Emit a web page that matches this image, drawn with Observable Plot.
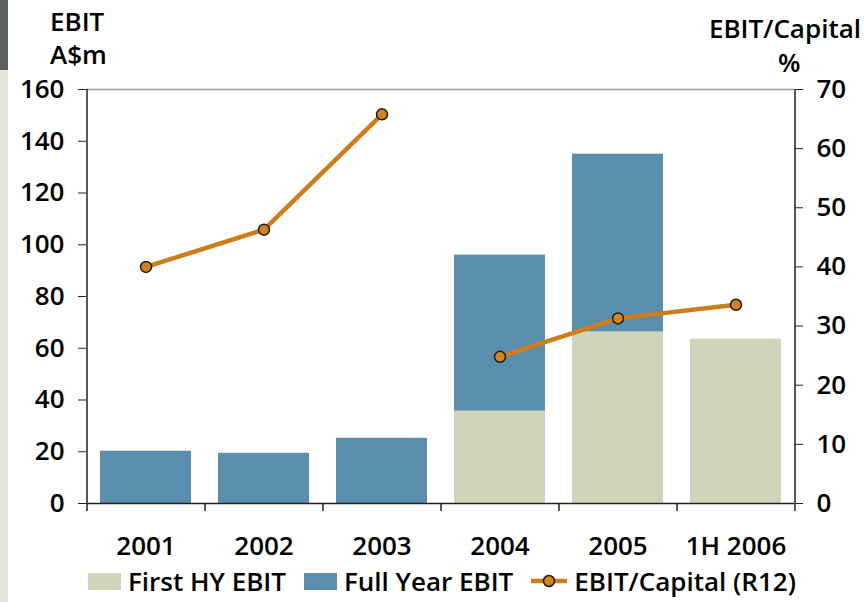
<!DOCTYPE html>
<html>
<head>
<meta charset="utf-8">
<script src="https://cdn.jsdelivr.net/npm/d3@7"></script>
<script src="https://cdn.jsdelivr.net/npm/@observablehq/plot@0.6"></script>
<style>
  html, body { margin: 0; padding: 0; background: #fff; }
  #wrap { position: relative; width: 865px; height: 602px; overflow: hidden;
          font-family: "Open Sans", sans-serif; font-weight: 600; font-size: 26px; color: #000; }
  .strip-dark { position: absolute; left: 0; top: 0; width: 8px; height: 70px; background: #5c6164; }
  .strip-light { position: absolute; left: 0; top: 70px; width: 8px; height: 532px; background: #e5e6da; }
  .lbl { position: absolute; line-height: 1; white-space: nowrap; }
  #chart { position: absolute; left: 0; top: 0; }
  #legend { position: absolute; left: 88px; top: 568px; display: flex; align-items: center; gap: 18px; line-height: 1; white-space: nowrap; }
  .item { display: flex; align-items: center; gap: 7px; }
  .sw { width: 33px; height: 17px; }
</style>
</head>
<body>
<div id="wrap">
  <div class="strip-dark"></div>
  <div class="strip-light"></div>
  <div class="lbl" style="left:50px; top:8px;">EBIT</div>
  <div class="lbl" style="left:50px; top:41px;">A$m</div>
  <div class="lbl" style="right:4px; top:15px;">EBIT/Capital</div>
  <div class="lbl" style="left:778px; top:49px;">%</div>
  <div id="chart"></div>
  <div id="legend"></div>
</div>
<script>
// ---- data ----
const categories = ["2001", "2002", "2003", "2004", "2005", "1H 2006"];
const firstHYEbit = [null, null, null, 35.7, 66.3, 63.5];      // A$m
const fullYearEbit = [20.2, 19.4, 25.2, 96.0, 135.0, null];    // A$m
const ebitCapital = [40.0, 46.3, 65.8, 24.8, 31.3, 33.6];      // %
const ratioSegment = ["A", "A", "A", "B", "B", "B"];           // line break between 2003 and 2004
const leftTicks = [0, 20, 40, 60, 80, 100, 120, 140, 160];
const rightTicks = [0, 10, 20, 30, 40, 50, 60, 70];
const seriesNames = ["First HY EBIT", "Full Year EBIT", "EBIT/Capital (R12)"];

// ---- layout / style ----
const W = 865, H = 565, ML = 86, MR = 71, MT = 89, MB = 62;
const LEFT_MAX = 160, RIGHT_MAX = 70;
const toLeft = v => v * LEFT_MAX / RIGHT_MAX;
const step = (W - ML - MR) / categories.length;
const tickLen = 8 * LEFT_MAX / (H - MT - MB);   // 8px in data units
const BEIGE = "#cfd5b8", BLUE = "#5b8dad", ORANGE = "#cd7d1a", MARKER = "#d4821f";
const AXIS = "#222", TOPLINE = "#9a9a9a";
const FS = 26;

// ---- tables built from arrays ----
const hyBars = categories.map((c, i) => ({cat: c, y1: 0, y2: firstHYEbit[i]})).filter(d => d.y2 != null);
const fyBars = categories.map((c, i) => ({cat: c, y1: firstHYEbit[i] ?? 0, y2: fullYearEbit[i]})).filter(d => d.y2 != null);
const ratio = categories.map((c, i) => ({cat: c, v: toLeft(ebitCapital[i]), seg: ratioSegment[i]}));

const chart = Plot.plot({
  width: W, height: H,
  marginLeft: ML, marginRight: MR, marginTop: MT, marginBottom: MB,
  style: {fontFamily: "Open Sans, sans-serif", fontSize: FS + "px", fontWeight: 600, color: "#000", background: "transparent", overflow: "visible"},
  x: {domain: categories, paddingInner: 0.23, paddingOuter: 0.115, axis: null},
  y: {domain: [0, LEFT_MAX], axis: null},
  marks: [
    Plot.barY(hyBars, {x: "cat", y1: "y1", y2: "y2", fill: BEIGE}),
    Plot.barY(fyBars, {x: "cat", y1: "y1", y2: "y2", fill: BLUE}),
    // frame lines
    Plot.ruleY([LEFT_MAX], {stroke: TOPLINE, strokeWidth: 1.5}),
    Plot.ruleY([0], {stroke: AXIS, strokeWidth: 1.5}),
    Plot.ruleX([categories[0]], {dx: -step / 2, y1: 0, y2: LEFT_MAX, stroke: AXIS, strokeWidth: 1.5}),
    Plot.ruleX([categories[categories.length - 1]], {dx: step / 2, y1: 0, y2: LEFT_MAX, stroke: AXIS, strokeWidth: 1.5}),
    // category boundary ticks
    Plot.ruleX(categories, {dx: -step / 2, y1: 0, y2: -tickLen, stroke: AXIS, strokeWidth: 1.5}),
    Plot.ruleX([categories[categories.length - 1]], {dx: step / 2, y1: 0, y2: -tickLen, stroke: AXIS, strokeWidth: 1.5}),
    Plot.axisX({tickSize: 0, tickPadding: 33, fontSize: FS, label: null}),
    Plot.axisY(leftTicks, {anchor: "left", tickSize: 8, tickPadding: 14, stroke: AXIS, fontSize: FS, label: null}),
    Plot.axisY(rightTicks.map(toLeft), {anchor: "right", tickSize: 8, tickPadding: 14, stroke: AXIS, fontSize: FS, label: null,
      tickFormat: d => String(Math.round(d * RIGHT_MAX / LEFT_MAX))}),
    // ratio line
    Plot.line(ratio, {x: "cat", y: "v", z: "seg", stroke: ORANGE, strokeWidth: 4.5}),
    Plot.dot(ratio, {x: "cat", y: "v", r: 5.5, fill: MARKER, stroke: "#1a1a1a", strokeWidth: 1.5})
  ]
});
document.getElementById("chart").appendChild(chart);

// ---- legend ----
const legend = document.getElementById("legend");
legend.innerHTML = `
  <div class="item"><div class="sw" style="background:${BEIGE}"></div><span>${seriesNames[0]}</span></div>
  <div class="item"><div class="sw" style="background:${BLUE}"></div><span>${seriesNames[1]}</span></div>
  <div class="item"><svg width="36" height="14" style="overflow:visible"><line x1="0" y1="7" x2="36" y2="7" stroke="${ORANGE}" stroke-width="4.5"/><circle cx="18" cy="7" r="5.5" fill="${MARKER}" stroke="#1a1a1a" stroke-width="1.5"/></svg><span>${seriesNames[2]}</span></div>`;
</script>
</body>
</html>
